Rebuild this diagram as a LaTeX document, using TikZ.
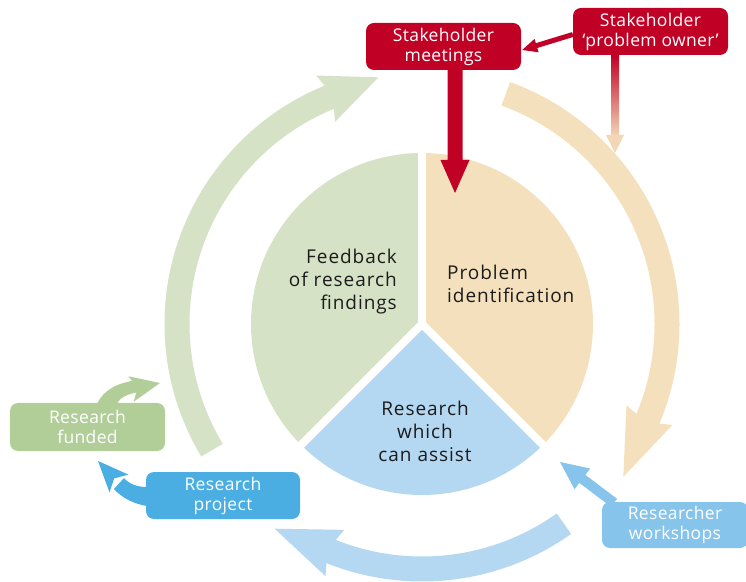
\documentclass[tikz,border=0pt]{standalone}
\usepackage{fontspec}
\setmainfont{Open Sans}
\newfontfamily\lblfont[LetterSpace=5]{Open Sans}
\newfontfamily\boxfont[LetterSpace=2]{Open Sans}
\usetikzlibrary{calc}
\definecolor{crimson}{RGB}{192,0,36}
\definecolor{pgreen}{RGB}{213,226,197}
\definecolor{porange}{RGB}{244,224,188}
\definecolor{pblue}{RGB}{180,216,241}
\definecolor{fgreen}{RGB}{178,206,152}
\definecolor{prblue}{RGB}{74,174,227}
\definecolor{wsblue}{RGB}{134,196,235}
\definecolor{peach}{RGB}{243,214,182}
\definecolor{ink}{RGB}{28,28,28}
% ring arrow: colour, start angle, end angle (head base), head length
\newcommand\ringarrow[4]{%
  \draw[#1, line width=25pt] ($(C)+(#2:245)$) arc[start angle=#2, end angle=#3, radius=245];
  \fill[#1, shift={(C)}, rotate=#3] (257.5,1) -- (270,5) -- (245,-#4) -- (220,5) -- (232.5,1) -- cycle;}
% straight arrow: colour, from, tip, shaft half width, head half width, head length
\newcommand\straightarr[6]{%
  \fill[#1] let \p1=($(#3)-(#2)$), \n1={atan2(\y1,\x1)}, \n2={veclen(\x1,\y1)} in
    [shift={(#2)}, rotate=\n1] (0,-#4) -- (\n2-#6,-#4) -- (\n2-#6,-#5) -- (\n2,0) -- (\n2-#6,#5) -- (\n2-#6,#4) -- (0,#4) -- cycle;}
% arrow head: colour, base middle, tip, half width, notch
\newcommand\arrhead[5]{%
  \fill[#1] let \p1=($(#3)-(#2)$), \n1={atan2(\y1,\x1)}, \n2={veclen(\x1,\y1)} in
    [shift={(#2)}, rotate=\n1] (0,#4) -- (\n2,0) -- (0,-#4) -- (#5,0) -- cycle;}
\begin{document}
\begin{tikzpicture}[x=1pt,y=1pt,
  box/.style={rounded corners=8pt, minimum width=155pt, minimum height=47pt, inner sep=0pt,
    align=center, text=white, font=\boxfont\fontsize{17.5}{20}\selectfont},
  lbl/.style={text=ink, inner sep=0pt, font=\lblfont\fontsize{19}{23}\selectfont}]
\useasboundingbox (0,0) rectangle (746,581);
\coordinate (C) at (422,257);
% pie
\fill[pgreen] (C) -- ++(90:171) arc[start angle=90, end angle=225, radius=171] -- cycle;
\fill[porange] (C) -- ++(-45:171) arc[start angle=-45, end angle=90, radius=171] -- cycle;
\fill[pblue] (C) -- ++(225:171) arc[start angle=225, end angle=315, radius=171] -- cycle;
\foreach \a in {90,225,315} \draw[white, line width=8pt] (C) -- ++(\a:180);
% ring arrows
\ringarrow{pgreen}{211}{112}{52}
\ringarrow{porange}{70}{-23}{62}
\ringarrow{pblue}{-54.6}{-112}{60}
% boxes
\node[box, fill=crimson] (meet) at (443.5,534.5) {Stakeholder\\meetings};
\node[box, fill=crimson] (owner) at (650.5,549.5) {Stakeholder\\‘problem owner’};
\node[box, fill=fgreen, minimum height=48pt] (funded) at (87.5,154) {Research\\funded};
\node[box, fill=prblue, minimum width=154pt] (project) at (223,85.5) {Research\\project};
\node[box, fill=wsblue, minimum width=146pt, minimum height=46pt] (workshops) at (675,56) {Researcher\\workshops};
% red arrows
\coordinate (m0) at ($(meet.south)+(11.5,0)$);
\coordinate (m1) at (455,388);
\straightarr{crimson}{m0}{m1}{7.5}{14.5}{33}
\coordinate (o0) at ($(owner.west)+(0,-3)$);
\coordinate (o1) at ($(meet.east)+(1,-3.5)$);
\straightarr{crimson}{o0}{o1}{2.5}{7}{15}
\coordinate (g0) at ($(owner.south)+(-35.5,0)$);
\coordinate (g1) at (615,428);
\shade[top color=crimson, bottom color=peach] ($(g0)+(-4,0)$) rectangle ($(g1)+(4,17)$);
\fill[peach] ($(g1)+(-9,18)$) -- (g1) -- ($(g1)+(9,18)$) -- cycle;
% funded arrow
\fill[fgreen] (97,177) .. controls (104,192) and (118,198) .. (137,201) -- (139,189) .. controls (128,187) and (120,184) .. (117,177) -- cycle;
\coordinate (fhb) at (131,192);
\coordinate (fht) at (160,198);
\arrhead{fgreen}{fhb}{fht}{13}{7}
% project arrow
\fill[prblue] (147,94) .. controls (137,94) and (129,97) .. (124,103) -- (114,92) .. controls (122,83) and (134,77) .. (147,75) -- cycle;
\coordinate (phb) at (119,97.5);
\coordinate (pht) at (98,120);
\arrhead{prblue}{phb}{pht}{13}{7}
% workshops arrow
\coordinate (w0) at ($(workshops.north)+(-61,-1)$);
\coordinate (w1) at (560,119);
\straightarr{wsblue}{w0}{w1}{5}{13}{28}
% labels
\node[lbl, align=right, anchor=east] (lfeed) at (397,299) {Feedback\\of research\\findings};
\node[lbl, align=left, anchor=west] (lprob) at (447,297) {Problem\\identification};
\node[lbl, align=center] (lassist) at (425,150) {Research\\which\\can assist};
\end{tikzpicture}
\end{document}
